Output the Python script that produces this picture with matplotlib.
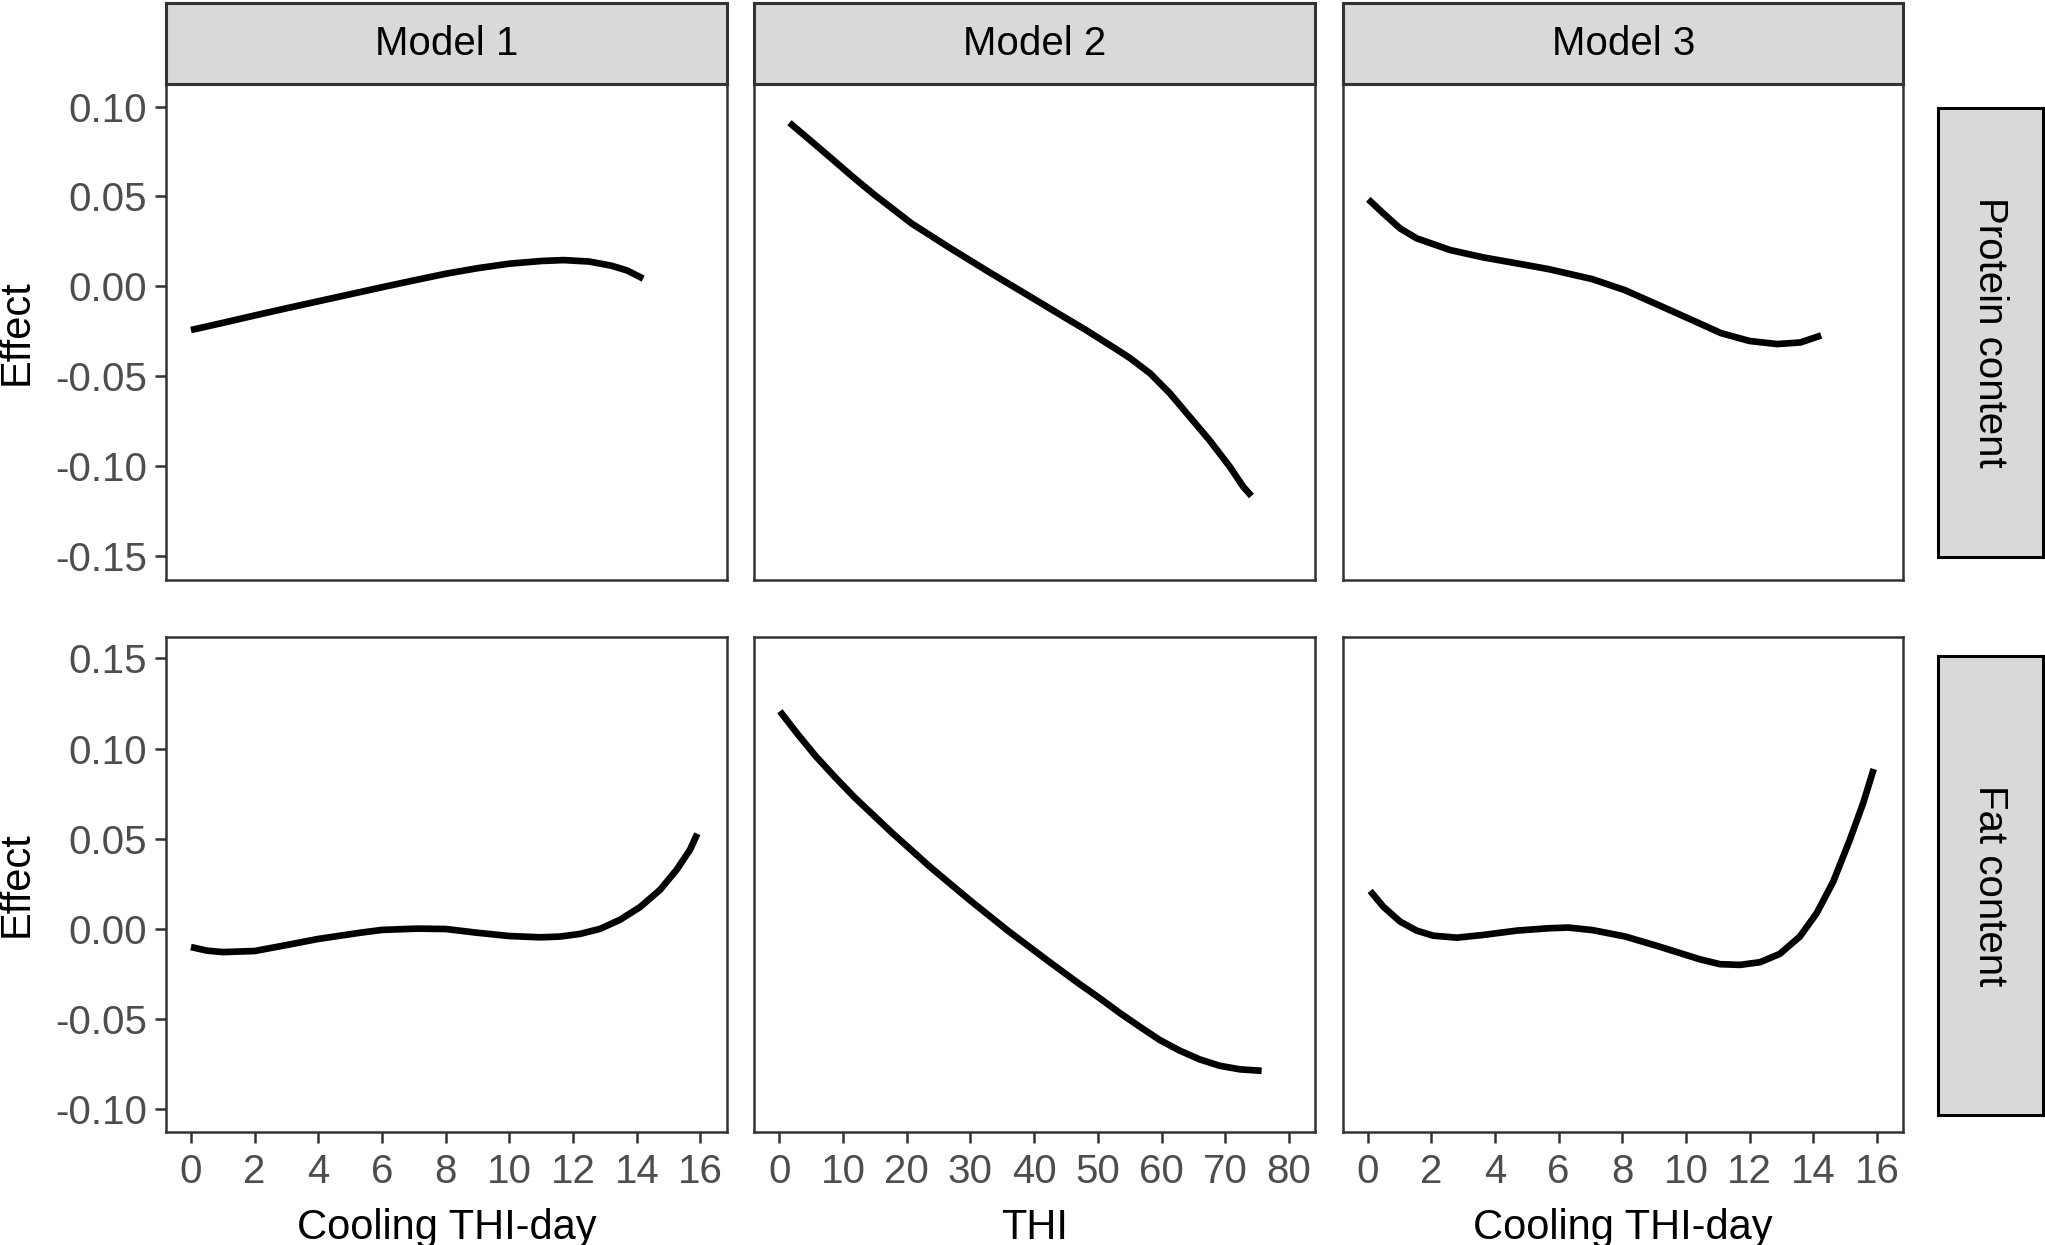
import numpy as np
import matplotlib
matplotlib.use('Agg')
import matplotlib.pyplot as plt

plt.rcParams['font.family'] = ['Liberation Sans', 'DejaVu Sans']
plt.rcParams['axes.unicode_minus'] = False

models = ['Model 1', 'Model 2', 'Model 3']
traits = ['Protein content', 'Fat content']
x_labels = ['Cooling THI-day', 'THI', 'Cooling THI-day']

m1_x = [0, 1, 2, 3, 4, 5, 6, 7, 8, 9, 10, 11, 11.7, 12.5, 13.2, 13.7, 14.2]
m1_protein = [-0.0243, -0.0203, -0.0162, -0.0122, -0.0083, -0.0044, -0.0005, 0.0033,
              0.0070, 0.0101, 0.0126, 0.0141, 0.0146, 0.0138, 0.0115, 0.0088, 0.0043]

m1f_x = [0, 0.5, 1, 2, 3, 4, 5.3, 6, 7.1, 8, 9, 10, 10.97, 11.59, 12.22, 12.85, 13.47,
         14.10, 14.73, 15.25, 15.67, 15.90]
m1_fat = [-0.0100, -0.0120, -0.0128, -0.0122, -0.0089, -0.0055, -0.0021, -0.0005, 0.0002,
          0.0000, -0.0021, -0.0039, -0.0046, -0.0042, -0.0027, 0.0001, 0.0051,
          0.0121, 0.0217, 0.0328, 0.0439, 0.0528]

m2p_x = [1.6, 5.0, 8.2, 11.5, 14.8, 20.8, 26.8, 32.9, 38.9, 44.9, 48.0, 50.9, 53.0, 55.0,
         58.2, 61.3, 64.4, 67.5, 70.7, 72.8, 74.1]
m2_protein = [0.0910, 0.0808, 0.0711, 0.0610, 0.0513, 0.0349, 0.0213, 0.0080, -0.0047,
              -0.0175, -0.0240, -0.0305, -0.0352, -0.0398, -0.0484, -0.0595, -0.0725,
              -0.0855, -0.1003, -0.1114, -0.1166]

m2f_x = [0.1, 3.0, 5.8, 8.8, 11.8, 17.8, 23.8, 29.9, 35.9, 42.0, 47.0, 50.3, 53.5, 56.6,
         59.7, 62.9, 66.0, 69.1, 72.3, 75.7]
m2_fat = [0.1207, 0.1075, 0.0955, 0.0840, 0.0730, 0.0530, 0.0340, 0.0160, -0.0010,
          -0.0172, -0.0302, -0.0384, -0.0467, -0.0542, -0.0615, -0.0675, -0.0723,
          -0.0758, -0.0778, -0.0786]

m3p_x = [0.02, 0.49, 1.02, 1.54, 2.59, 3.63, 4.68, 5.68, 7.06, 8.08, 9.1, 10.1, 11.1,
         12.0, 12.87, 13.6, 14.25]
m3_protein = [0.0484, 0.0406, 0.0322, 0.0267, 0.0202, 0.0161, 0.0128, 0.0096, 0.0040,
              -0.0021, -0.0101, -0.0180, -0.0260, -0.0304, -0.0321, -0.0312, -0.0273]

m3f_x = [0.08, 0.49, 1.02, 1.54, 2.06, 2.80, 3.63, 4.68, 5.68, 6.3, 7.06, 8.08, 9.1,
         10.44, 11.07, 11.70, 12.33, 12.95, 13.58, 14.11, 14.63, 15.15, 15.57, 15.90]
m3_fat = [0.0211, 0.0124, 0.0041, -0.0009, -0.0037, -0.0048, -0.0033, -0.0009, 0.0004,
          0.0008, -0.0006, -0.0041, -0.0094, -0.0168, -0.0195, -0.0199, -0.0184,
          -0.0138, -0.0042, 0.0088, 0.0263, 0.0494, 0.0698, 0.0887]

curves = [[(m1_x, m1_protein), (m2p_x, m2_protein), (m3p_x, m3_protein)],
          [(m1f_x, m1_fat), (m2f_x, m2_fat), (m3f_x, m3_fat)]]

x_ticks = [np.arange(0, 17, 2), np.arange(0, 81, 10), np.arange(0, 17, 2)]
x_lims = [(-0.77, 16.82), (-3.9, 84.0), (-0.77, 16.83)]
y_ticks = [np.arange(-0.15, 0.101, 0.05), np.arange(-0.10, 0.151, 0.05)]
y_lims = [(-0.1632, 0.1123), (-0.1125, 0.1621)]

fig = plt.figure(figsize=(20.45, 12.45), dpi=100)

col_left = [0.0814, 0.3689, 0.6568]
col_w = 0.2739
row_bottom = [0.5343, 0.0908]
row_h = 0.3979
edge = '#333333'
tick_grey = '#4D4D4D'

for r in range(2):
    for c in range(3):
        ax = fig.add_axes([col_left[c], row_bottom[r], col_w, row_h])
        xs, ys = curves[r][c]
        ax.plot(xs, ys, color='black', lw=4.8, solid_capstyle='butt',
                solid_joinstyle='round')
        ax.set_xlim(x_lims[c])
        ax.set_ylim(y_lims[r])
        for s in ax.spines.values():
            s.set_color(edge)
            s.set_linewidth(1.8)
        ax.tick_params(length=8, width=1.8, color=edge, labelcolor=tick_grey,
                       labelsize=29)
        ax.tick_params(axis='y', pad=6)
        ax.tick_params(axis='x', pad=7)
        if c == 0:
            ax.set_yticks(y_ticks[r])
            ax.set_yticklabels(['%.2f' % v for v in y_ticks[r]])
        else:
            ax.set_yticks([])
        if r == 1:
            ax.set_xticks(x_ticks[c])
        else:
            ax.set_xticks([])

# column strips
for c in range(3):
    sax = fig.add_axes([col_left[c], 0.9324, col_w, 0.9976 - 0.9324])
    sax.set_facecolor('#D9D9D9')
    sax.set_xticks([])
    sax.set_yticks([])
    for s in sax.spines.values():
        s.set_color(edge)
        s.set_linewidth(2.2)
    sax.text(0.5, 0.5, models[c], ha='center', va='center', fontsize=29,
             color='black', transform=sax.transAxes)
    fig.text(col_left[c] + col_w / 2, 0.0052, x_labels[c], ha='center',
             va='baseline', fontsize=30)

# row strips on the right
strip_rows = [(0.5530, 0.9130), (0.1048, 0.4731)]
for r in range(2):
    lo, hi = strip_rows[r]
    sax = fig.add_axes([0.9475, lo, 0.9990 - 0.9475, hi - lo])
    sax.set_facecolor('#D9D9D9')
    sax.set_xticks([])
    sax.set_yticks([])
    for s in sax.spines.values():
        s.set_color('black')
        s.set_linewidth(2.2)
    sax.text(0.5, 0.5, traits[r], ha='center', va='center', fontsize=29,
             rotation=270, transform=sax.transAxes)
    fig.text(0.0079, row_bottom[r] + row_h / 2, 'Effect', ha='center',
             va='center', rotation=90, fontsize=30)

fig.savefig('out.png', dpi=100)
